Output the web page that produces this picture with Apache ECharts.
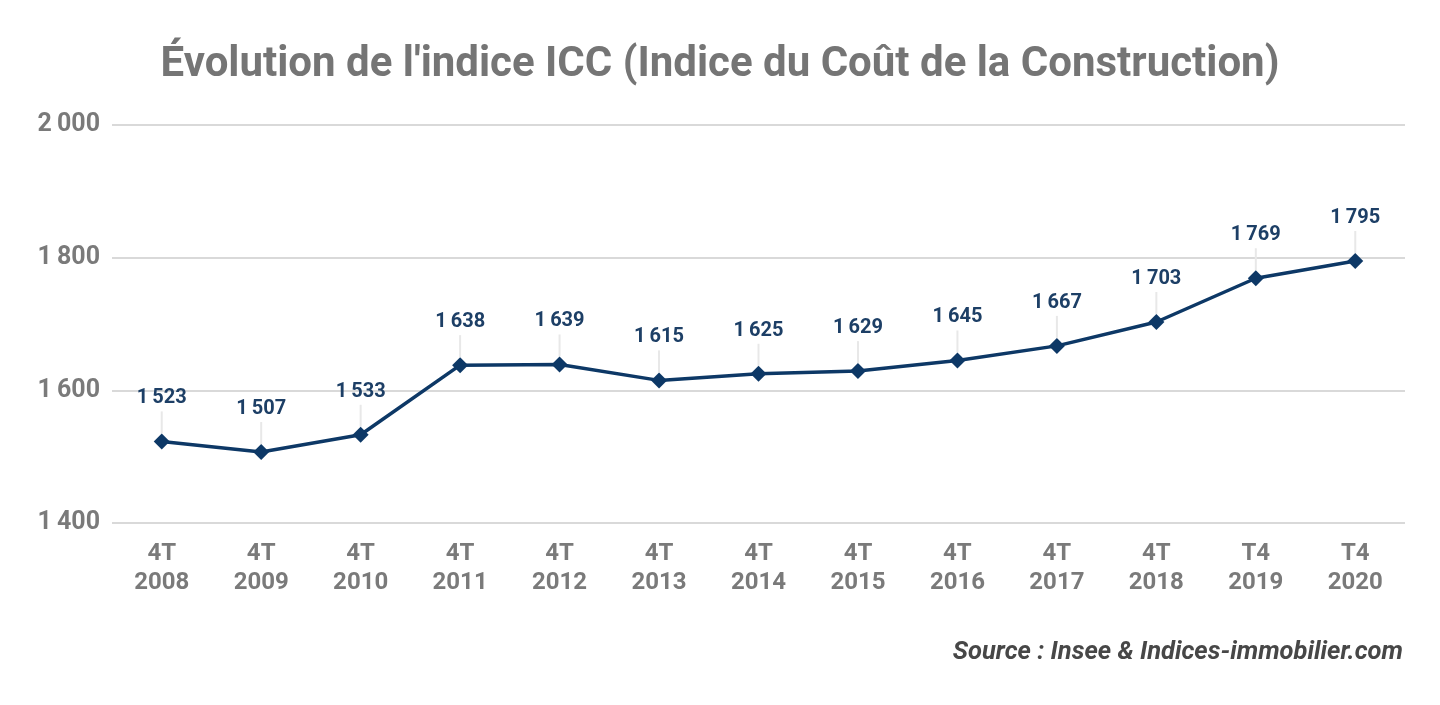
<!DOCTYPE html>
<html>
<head>
<meta charset="utf-8">
<script src="https://cdn.jsdelivr.net/npm/echarts@6/dist/echarts.min.js"></script>
<style>
  html, body { margin: 0; padding: 0; background: #fff; }
  #chart { width: 1440px; height: 705px; }
</style>
</head>
<body>
<div id="chart"></div>
<script>
const categories = ['4T\n2008', '4T\n2009', '4T\n2010', '4T\n2011', '4T\n2012', '4T\n2013', '4T\n2014',
  '4T\n2015', '4T\n2016', '4T\n2017', '4T\n2018', 'T4\n2019', 'T4\n2020']
const icc = [1523, 1507, 1533, 1638, 1639, 1615, 1625, 1629, 1645, 1667, 1703, 1769, 1795]

// thousands separated by a thin space, like the original
const fmt = v => String(v).replace(/\B(?=(\d{3})+(?!\d))/g, '\u2009')

const chart = echarts.init(document.getElementById('chart'), null, { renderer: 'canvas' })
chart.setOption({
  backgroundColor: '#fff',
  animation: false,
  title: {
    text: "Évolution de l'indice ICC (Indice du Coût de la Construction)",
    left: 'center',
    top: 39,
    textStyle: { fontFamily: 'Roboto', fontSize: 42, fontWeight: 'bold', color: '#757575' },
  },
  graphic: [{
    type: 'text',
    right: 37,
    top: 640,
    style: {
      text: 'Source : Insee & Indices-immobilier.com',
      font: 'italic bold 25.5px Roboto',
      fill: '#474747',
    },
  }],
  grid: { left: 112, right: 35, top: 125, bottom: 182, containLabel: false },
  xAxis: {
    type: 'category',
    data: categories,
    boundaryGap: true,
    axisLine: { show: false },
    axisTick: { show: false },
    axisLabel: {
      margin: 16,
      fontFamily: 'Roboto', fontSize: 24, fontWeight: 'bold', color: '#7a7a7a', lineHeight: 29,
    },
  },
  yAxis: {
    type: 'value',
    min: 1400,
    max: 2000,
    interval: 200,
    axisLine: { show: false },
    axisTick: { show: false },
    splitLine: { lineStyle: { color: '#cccccc', width: 1.5 } },
    axisLabel: {
      margin: 12,
      formatter: fmt,
      fontFamily: 'Roboto', fontSize: 25, fontWeight: 'bold', color: '#7a7a7a',
    },
  },
  series: [
    {
      type: 'custom',
      z: 1,
      silent: true,
      renderItem: (params, api) => {
        const p = api.coord([api.value(0), api.value(1)])
        return {
          type: 'line',
          shape: { x1: p[0], y1: p[1] - 8, x2: p[0], y2: p[1] - 30 },
          style: { stroke: '#e8e8e8', lineWidth: 2 },
        }
      },
      data: icc.map((v, i) => [i, v]),
    },
    {
      type: 'line',
      z: 3,
      data: icc,
      symbol: 'diamond',
      symbolSize: 16,
      lineStyle: { color: '#0d3866', width: 3.5 },
      itemStyle: { color: '#0d3866' },
      label: {
        show: true,
        position: 'top',
        distance: 25,
        formatter: p => fmt(p.value),
        fontFamily: 'Roboto', fontSize: 20, fontWeight: 'bold', color: '#1d3f66',
      },
    },
  ],
})
</script>
</body>
</html>
